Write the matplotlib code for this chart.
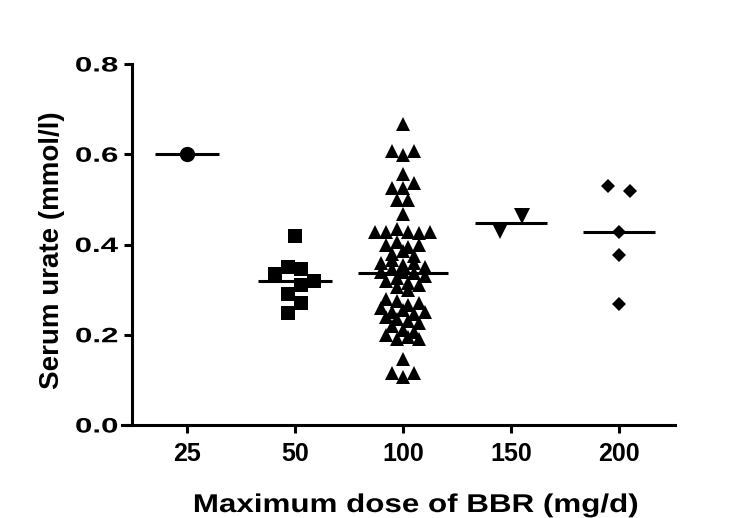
import matplotlib
matplotlib.use('Agg')
import matplotlib.pyplot as plt
from matplotlib.patheffects import AbstractPathEffect
from matplotlib.transforms import Affine2D
import numpy as np

# doses (x categories) and serum urate values
doses = ['25', '50', '100', '150', '200']

urate_25 = [0.60]
urate_50 = [0.418, 0.335, 0.35, 0.345, 0.32, 0.29, 0.31, 0.248, 0.27]
urate_100 = [0.667,
             0.607, 0.598, 0.607,
             0.557,
             0.526, 0.526, 0.536,
             0.499, 0.499,
             0.467,
             0.427, 0.427, 0.435, 0.427, 0.425, 0.427,
             0.40, 0.405, 0.395, 0.40,
             0.38, 0.385, 0.375,
             0.36, 0.365, 0.355, 0.36, 0.35,
             0.34, 0.345, 0.338, 0.337, 0.33,
             0.32, 0.325, 0.315, 0.31,
             0.305, 0.30,
             0.28, 0.275, 0.265, 0.27,
             0.26, 0.25, 0.255, 0.245, 0.25,
             0.24, 0.235, 0.23, 0.225,
             0.22, 0.21, 0.205,
             0.20, 0.19, 0.195, 0.19,
             0.147,
             0.116, 0.107, 0.116]
urate_150 = [0.431, 0.464]
urate_200 = [0.529, 0.518, 0.427, 0.376, 0.268]

groups = [urate_25, urate_50, urate_100, urate_150, urate_200]
markers = ['o', 's', '^', 'v', 'D']
msizes = [11, 10.5, 10, 11, 7.5]
half_widths = [0.30, 0.34, 0.42, 0.33, 0.33]
row_h = [10, 14, 7, 16, 7]      # px, values closer than this share a row
row_w = [0, 13, 11, 22, 22]     # px, spacing inside a row

plt.rcParams['font.family'] = ['Liberation Sans', 'DejaVu Sans']
plt.rcParams['font.weight'] = 'bold'


class Stretch(AbstractPathEffect):
    # widen text horizontally (the original figure's lettering is stretched)
    def __init__(self, sx, anchor=0.5):
        super().__init__()
        self.sx = sx
        self.anchor = anchor

    def draw_path(self, renderer, gc, tpath, affine, rgbFace=None):
        ext = tpath.get_extents()
        xa = ext.x0 + self.anchor * ext.width
        pre = Affine2D().translate(-xa, 0).scale(self.sx, 1).translate(xa, 0)
        renderer.draw_path(gc, tpath, pre + affine, rgbFace)


fig = plt.figure(figsize=(7.46, 5.18), dpi=100, facecolor='white')
ax = fig.add_axes([122/746, 1 - 425/518, 553/746, (425 - 64)/518])
ax.set_xlim(-0.602, 4.519)
ax.set_ylim(0, 0.8)

bbox = ax.get_window_extent()
kx = bbox.width / (ax.get_xlim()[1] - ax.get_xlim()[0])
ky = bbox.height / (ax.get_ylim()[1] - ax.get_ylim()[0])


def column_scatter(vals, h_px, w_px):
    # prism-like column scatter: near-equal values go in one centred row
    vals = np.asarray(vals)
    order = np.argsort(-vals, kind='stable')
    rows = []
    cur = [order[0]]
    start = vals[order[0]]
    for idx in order[1:]:
        if (start - vals[idx]) * ky < h_px:
            cur.append(idx)
        else:
            rows.append(cur)
            cur = [idx]
            start = vals[idx]
    rows.append(cur)
    offs = np.zeros(len(vals))
    for r in rows:
        r = sorted(r)
        n = len(r)
        for k, idx in enumerate(r):
            offs[idx] = (k - (n - 1) / 2) * w_px / kx
    return offs


for i, vals in enumerate(groups):
    offs = column_scatter(vals, row_h[i], row_w[i])
    ax.plot(i + offs, vals, linestyle='none', marker=markers[i], markersize=msizes[i],
            color='black', markeredgewidth=0, clip_on=False, zorder=3)
    med = np.median(vals)
    ax.hlines(med, i - half_widths[i], i + half_widths[i], color='black', linewidth=2.2, zorder=4)

ax.spines['top'].set_visible(False)
ax.spines['right'].set_visible(False)
ax.spines['left'].set_position(('data', -0.51))
ax.spines['left'].set_bounds(0, 0.8)
for s in ['left', 'bottom']:
    ax.spines[s].set_linewidth(2.2)

ax.set_xticks(range(len(doses)))
xt = ax.set_xticklabels(doses, fontsize=18, fontweight='bold')
ax.set_yticks([0.0, 0.2, 0.4, 0.6, 0.8])
yt = ax.set_yticklabels(['0.0', '0.2', '0.4', '0.6', '0.8'], fontsize=15, fontweight='bold')
for t in yt:
    t.set_path_effects([Stretch(1.5, anchor=1.0)])
ax.tick_params(axis='both', length=6, width=2.2)
ax.tick_params(axis='x', pad=6)
ax.tick_params(axis='y', pad=4)

xl = ax.set_xlabel('Maximum dose of BBR (mg/d)', fontsize=18.5, fontweight='bold', va='baseline')
xl.set_path_effects([Stretch(1.22, anchor=0.5)])
ax.xaxis.set_label_coords(0.532, -0.241)
ax.set_ylabel('Serum urate (mmol/l)', fontsize=20, fontweight='bold', va='center')
ax.yaxis.set_label_coords(-0.127, 0.485)

plt.savefig('out.png', dpi=100, facecolor='white')
